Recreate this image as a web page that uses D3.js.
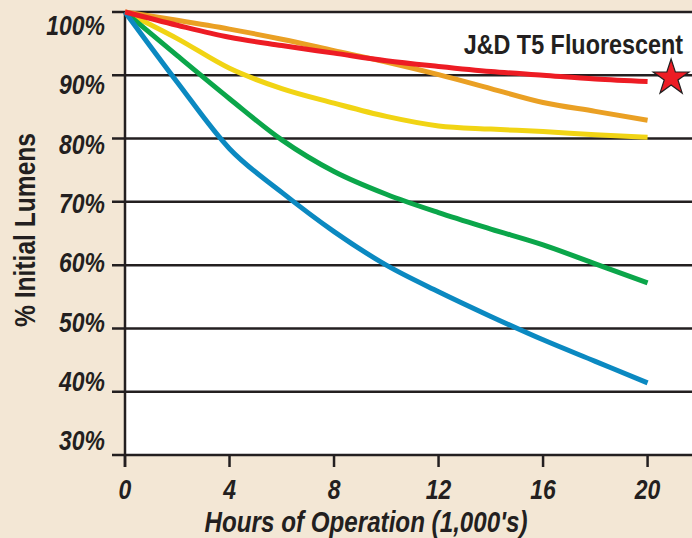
<!DOCTYPE html>
<html>
<head>
<meta charset="utf-8">
<script src="https://cdn.jsdelivr.net/npm/d3@7"></script>
<style>
    body { margin: 0; background: #f3e7d5; }
    svg text { fill: #231f20; font-family: "Liberation Sans", Arial, sans-serif; font-weight: bold; }
</style>
</head>
<body>
<div id="chart"></div>
<script>

// hours of operation (1,000's)
const hours = [0, 2, 4, 6, 8, 10, 12, 14, 16, 18, 20];

// % initial lumens per lamp
const redT5      = [100, 97.9, 96.0, 94.7, 93.5, 92.3, 91.4, 90.6, 90.0, 89.4, 89.0];
const orangeLamp = [100, 98.7, 97.3, 95.7, 93.9, 92.1, 90.1, 87.9, 85.7, 84.3, 82.9];
const yellowLamp = [100, 95.8, 91.1, 87.9, 85.6, 83.5, 82.0, 81.5, 81.1, 80.6, 80.2];
const greenLamp  = [100, 93.1, 86.3, 79.8, 74.8, 71.2, 68.3, 65.7, 63.2, 60.2, 57.2];
const blueLamp   = [100, 88.9, 78.4, 71.5, 65.3, 60.0, 55.8, 51.9, 48.2, 44.8, 41.4];

const xTicks = [0, 4, 8, 12, 16, 20];
const yTicks = [30, 40, 50, 60, 70, 80, 90, 100];
const legendLabel = "J&D T5 Fluorescent";

const series = [
    {name: "orange", values: orangeLamp, color: "#eaa024"},
    {name: "yellow", values: yellowLamp, color: "#f1d414"},
    {name: "green",  values: greenLamp,  color: "#0ba64a"},
    {name: "blue",   values: blueLamp,   color: "#0b89c1"},
    {name: "red",    values: redT5,      color: "#ed1c24"}
];

let width = 692, height = 538;
let margin = {top: 12, right: 0, bottom: 83, left: 125};
let narrow = 0.82;   // no condensed face installed, squeeze Liberation Sans instead

let svg = d3.select("#chart").append("svg")
    .attr("width", width)
    .attr("height", height);

svg.append("rect")
    .attr("width", width).attr("height", height)
    .attr("fill", "#f3e7d5");

let x = d3.scaleLinear()
    .domain([0, 21.7])
    .range([margin.left, width - margin.right]);

let y = d3.scaleLinear()
    .domain([30, 100])
    .range([height - margin.bottom, margin.top]);

// the labels in the original sit on their own, slightly tighter spacing
let yLabel = d3.scaleLinear()
    .domain([30, 100])
    .range([440, 25]);

// white plot area
svg.append("rect")
    .attr("x", x(0)).attr("y", y(100))
    .attr("width", x(21.7) - x(0))
    .attr("height", y(30) - y(100))
    .attr("fill", "white");

// grid lines (with the little ticks left of the axis)
svg.append("g")
    .selectAll("line")
    .data(yTicks)
    .enter().append("line")
        .attr("x1", x(0) - 13).attr("x2", width)
        .attr("y1", d => y(d)).attr("y2", d => y(d))
        .attr("stroke", "#231f20")
        .attr("stroke-width", 2.5);

// y tick labels
svg.append("g")
    .selectAll("text")
    .data(yTicks)
    .enter().append("text")
        .attr("transform", d => `translate(105, ${yLabel(d)}) scale(${narrow}, 1)`)
        .attr("dy", "0.36em")
        .attr("text-anchor", "end")
        .style("font-style", "italic")
        .style("font-size", "28px")
        .text(d => d + "%");

// x axis ticks
svg.append("g")
    .selectAll("line")
    .data(xTicks)
    .enter().append("line")
        .attr("x1", d => x(d)).attr("x2", d => x(d))
        .attr("y1", y(30)).attr("y2", y(30) + 12)
        .attr("stroke", "#231f20")
        .attr("stroke-width", 2.5);

svg.append("g")
    .selectAll("text")
    .data(xTicks)
    .enter().append("text")
        .attr("transform", d => `translate(${x(d)}, 499) scale(${narrow}, 1)`)
        .attr("text-anchor", "middle")
        .style("font-style", "italic")
        .style("font-size", "28px")
        .text(d => d);

// left axis line
svg.append("line")
    .attr("x1", x(0)).attr("x2", x(0))
    .attr("y1", y(100) - 1).attr("y2", y(30) + 12)
    .attr("stroke", "#231f20")
    .attr("stroke-width", 2.5);

// lines
let line = d3.line()
    .x((d, i) => x(hours[i]))
    .y(d => y(d))
    .curve(d3.curveMonotoneX);

svg.append("g")
    .selectAll("path")
    .data(series)
    .enter().append("path")
        .attr("d", d => line(d.values))
        .attr("fill", "none")
        .attr("stroke", d => d.color)
        .attr("stroke-width", 5);

// legend
svg.append("text")
    .attr("transform", `translate(683, 54) scale(${narrow}, 1)`)
    .attr("text-anchor", "end")
    .style("font-size", "28.5px")
    .text(legendLabel);

svg.append("path")
    .attr("d", d3.symbol(d3.symbolStar, 400)())
    .attr("transform", `translate(${x(20.9)}, ${y(89.6)})`)
    .attr("fill", "#ed1c24")
    .attr("stroke", "#231f20")
    .attr("stroke-width", 1.2);

// axis titles
svg.append("text")
    .attr("transform", `translate(35, 230) rotate(-90) scale(${narrow}, 1)`)
    .attr("text-anchor", "middle")
    .style("font-size", "30px")
    .text("% Initial Lumens");

svg.append("text")
    .attr("transform", `translate(366, 532) scale(${narrow}, 1)`)
    .attr("text-anchor", "middle")
    .style("font-style", "italic")
    .style("font-size", "29.5px")
    .text("Hours of Operation (1,000's)");

</script>
</body>
</html>
